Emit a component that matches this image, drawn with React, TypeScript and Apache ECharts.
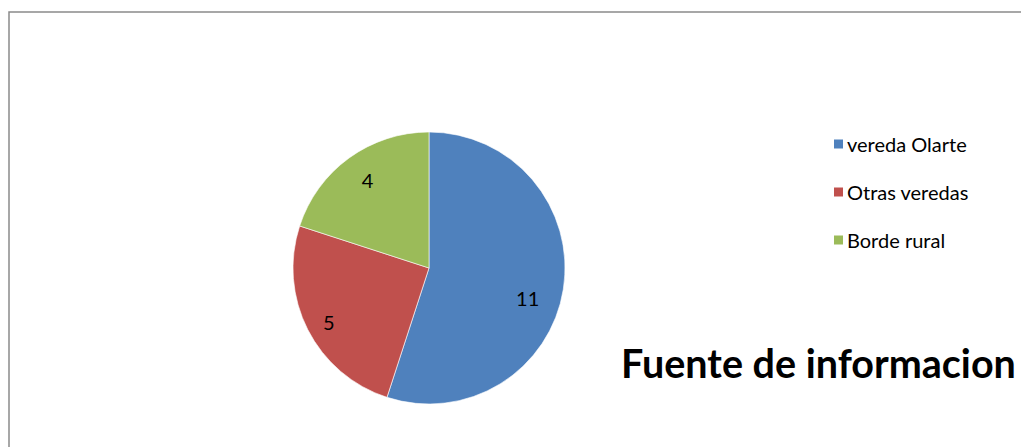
import React, { useEffect, useRef } from "react";
import * as echarts from "echarts";

const categories = ["vereda Olarte", "Otras veredas", "Borde rural"];
const values = [11, 5, 4];
const colors = ["#4F81BD", "#C0504D", "#9BBB59"];
const titleText = "Fuente de informacion";

export default function App() {
  const ref = useRef<HTMLDivElement>(null);
  useEffect(() => {
    if (!ref.current) return;
    const chart = echarts.init(ref.current, undefined, { renderer: "svg" });
    const data = categories.map((name, i) => ({
      name,
      value: values[i],
      itemStyle: { color: colors[i] },
    }));
    const labelOffsets = [[-8, 13], [-4, 5], [2, -1]];
    chart.setOption({
      animation: false,
      backgroundColor: "#ffffff",
      title: {
        text: titleText,
        left: 616,
        top: 337,
        textStyle: {
          fontFamily: "Lato, 'Open Sans', sans-serif",
          fontWeight: "bold",
          fontSize: 39.5,
          color: "#000000",
        },
      },
      legend: {
        orient: "vertical",
        left: 827,
        top: 128,
        icon: "rect",
        itemWidth: 11,
        itemHeight: 11,
        itemGap: 26,
        data: categories,
        textStyle: {
          fontFamily: "Lato, 'Open Sans', sans-serif",
          fontSize: 20,
          lineHeight: 22,
          color: "#000000",
          padding: [0, 0, 0, -2],
        },
      },
      graphic: [
        {
          type: "rect",
          shape: { x: 9, y: 12, width: 1200, height: 600 },
          style: { fill: "none", stroke: "#8a8a8a", lineWidth: 1.5 },
          silent: true,
        },
      ],
      series: [
        {
          type: "pie",
          center: [429, 268],
          radius: [0, 136],
          startAngle: 90,
          clockwise: true,
          data,
          label: { show: false },
          labelLine: { show: false },
          itemStyle: { borderColor: "#ffffff", borderWidth: 0.6 },
          emphasis: { disabled: true },
        },
        {
          type: "pie",
          center: [429, 268],
          radius: [74, 136],
          startAngle: 90,
          clockwise: true,
          silent: true,
          data: data.map((d, i) => ({
            ...d,
            itemStyle: { color: "transparent" },
            label: { offset: labelOffsets[i] },
          })),
          label: {
            show: true,
            position: "inside",
            formatter: "{c}",
            fontFamily: "Lato, 'Open Sans', sans-serif",
            fontSize: 20,
            color: "#000000",
          },
          labelLine: { show: false },
          legendHoverLink: false,
        },
      ],
    });
    return () => chart.dispose();
  }, []);
  return (
    <div
      ref={ref}
      style={{ position: "absolute", left: 0, top: 0, width: 1021, height: 447 }}
    />
  );
}
